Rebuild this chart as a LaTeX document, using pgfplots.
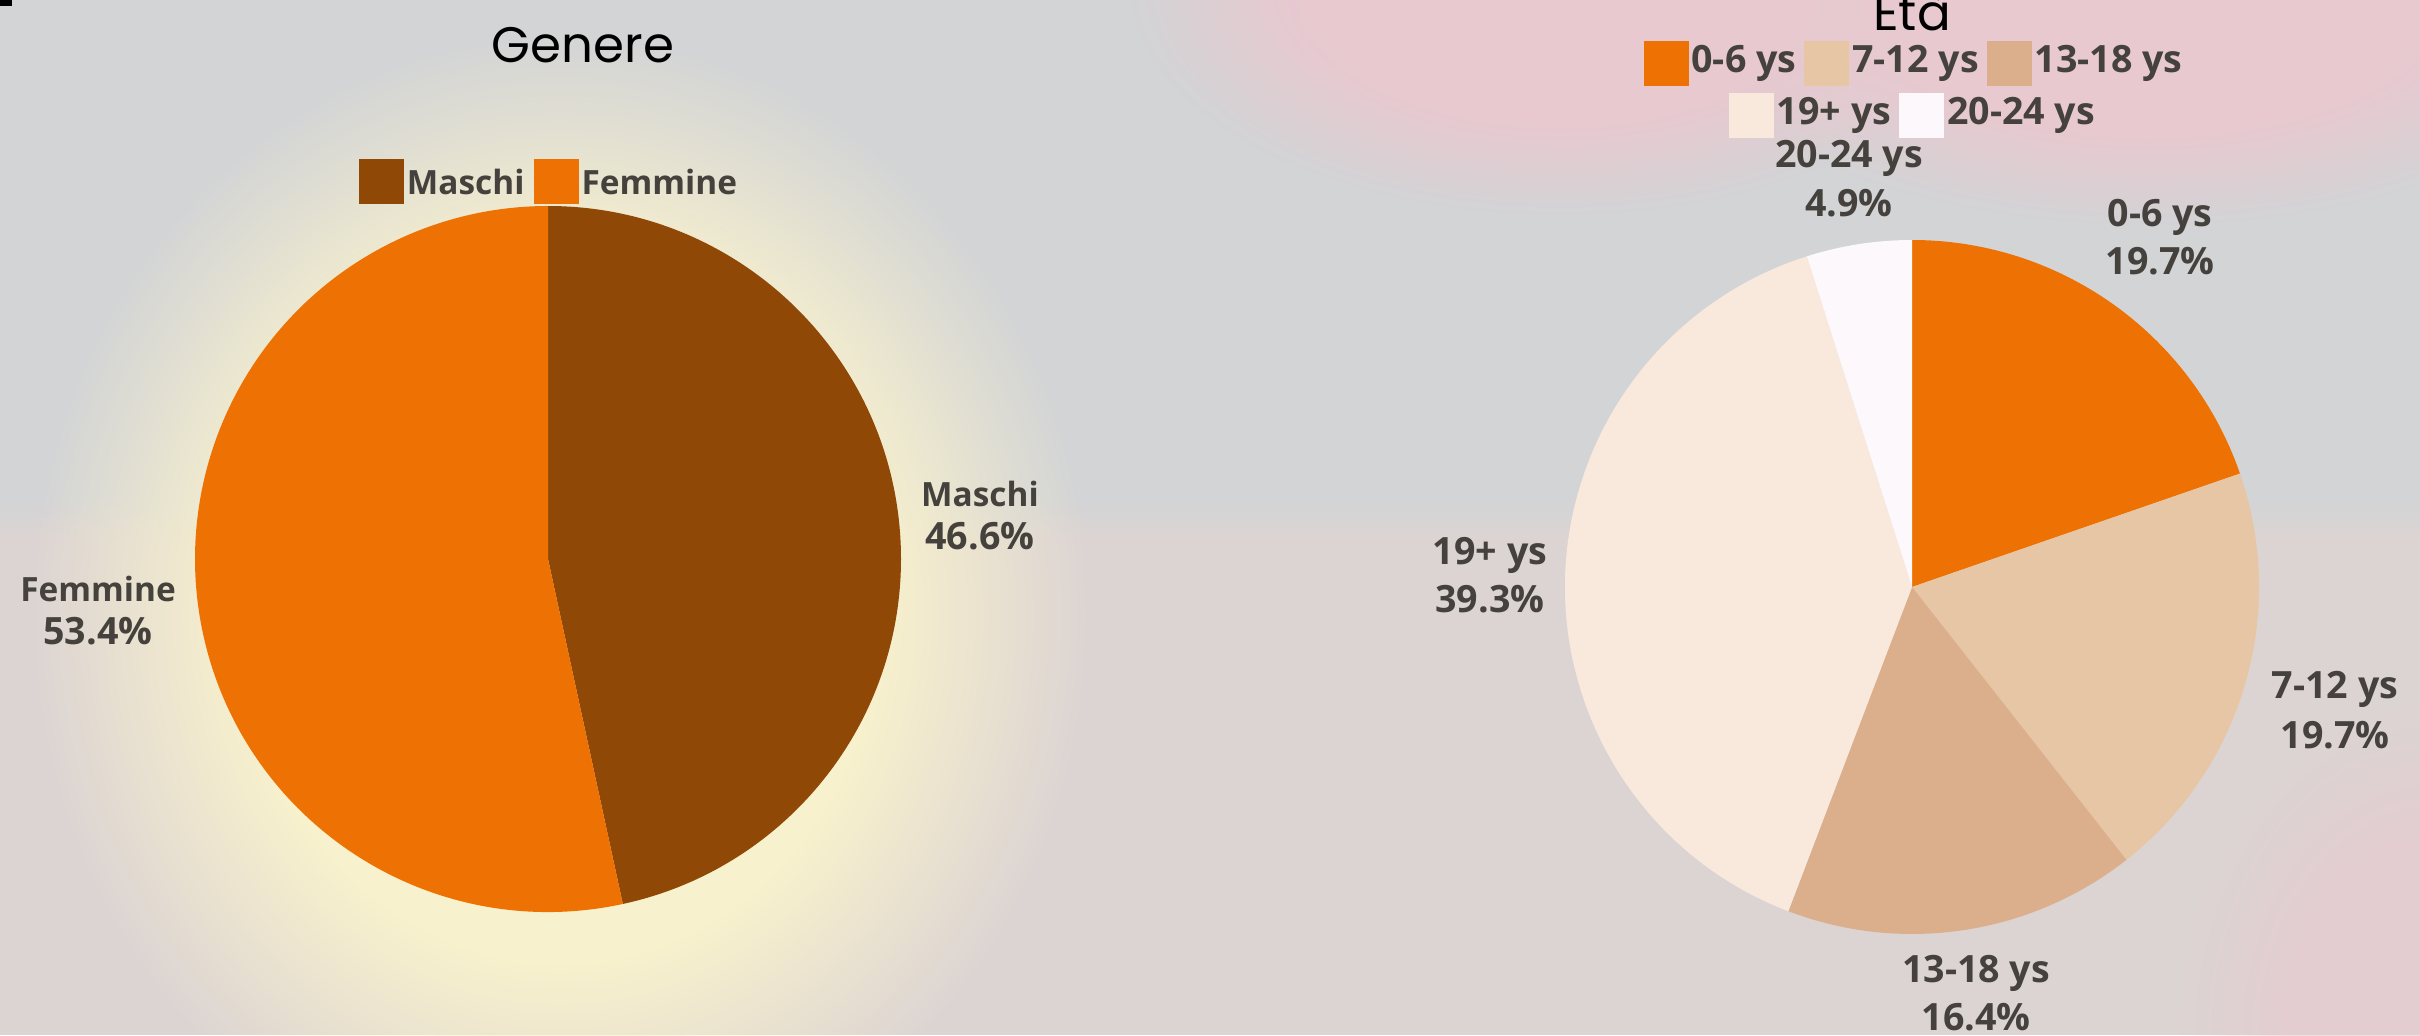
\documentclass[border=0pt]{standalone}
\usepackage{pgfplots}
\pgfplotsset{compat=1.18}
\usepackage{fontspec}
\setmainfont{Open Sans}
\newfontfamily\titlefont{Poppins}
\usetikzlibrary{fadings}

\definecolor{maschi}{HTML}{8F4806}
\definecolor{femmine}{HTML}{EE7203}
\definecolor{ageA}{HTML}{EE7203}
\definecolor{ageB}{HTML}{E7C6A6}
\definecolor{ageC}{HTML}{DBAF8B}
\definecolor{ageD}{HTML}{F9E9DC}
\definecolor{ageE}{HTML}{FDF8FC}
\definecolor{txt}{HTML}{45413D}
\definecolor{bgtop}{HTML}{D3D4D6}
\definecolor{bgbot}{HTML}{DCD4D3}
\definecolor{pinkc}{HTML}{E8C9D0}
\definecolor{glowc}{HTML}{F8F1CD}

\pgfdeclareradialshading{softshade}{\pgfpointorigin}{%
  color(0bp)=(pgftransparent!0); color(15bp)=(pgftransparent!0);
  color(25bp)=(pgftransparent!100); color(50bp)=(pgftransparent!100)}
\pgfdeclarefading{softfade}{\pgfuseshading{softshade}}

% one pie slice: start (percent), size (percent), colour, radius
\newcommand\slice[4]{%
  \fill[#3] (axis cs:0,0) -- ++({90-3.6*(#1)}:#4)
    arc[start angle={90-3.6*(#1)}, delta angle={-3.6*(#2)}, radius=#4] -- cycle;}
\newcommand\sw[2]{\raisebox{#2}{\textcolor{#1}{\rule{4.5mm}{4.5mm}}}}

\begin{document}
\begin{tikzpicture}[x=0.1mm,y=0.1mm,
  lab/.style={font=\fontsize{9.5pt}{11pt}\selectfont\bfseries, text=txt, inner sep=0pt, anchor=base},
  num/.style={font=\fontsize{10.7pt}{12pt}\selectfont\bfseries, text=txt, inner sep=0pt, anchor=base},
  ttl/.style={font=\fontsize{14.2pt}{16pt}\selectfont\titlefont, text=black, inner sep=0pt, anchor=base, text depth=0pt}]
\begin{scope}
\clip (0,0) rectangle (2420,1035);
% background
\fill[bgbot] (0,0) rectangle (2420,1035);
\fill[bgtop] (0,535) rectangle (2420,1035);
\shade[top color=bgtop, bottom color=bgbot] (0,495) rectangle (2420,535);
\fill[pinkc, path fading=softfade, fit fading=true] (1560,1050) ellipse [x radius=430, y radius=230];
\fill[pinkc, path fading=softfade, fit fading=true] (2150,1040) ellipse [x radius=480, y radius=230];
\fill[pinkc, opacity=0.6, path fading=softfade, fit fading=true] (2440,0) ellipse [x radius=260, y radius=330];
\fill[glowc, path fading=softfade, fit fading=true] (560,420) ellipse [x radius=530, y radius=580];
\fill[black] (0,1029) rectangle (12,1035);
\end{scope}

\coordinate (P1) at (548,476);
\coordinate (P2) at (1912,448);

% Genere
\begin{axis}[at={(P1)}, anchor=origin, hide axis, scale only axis,
  width=70.6mm, height=70.6mm, xmin=-1, xmax=1, ymin=-1, ymax=1]
\slice{0}{46.6}{maschi}{35.3mm}
\slice{46.6}{53.4}{femmine}{35.3mm}
\end{axis}

% Eta
\begin{axis}[at={(P2)}, anchor=origin, hide axis, scale only axis,
  width=69.4mm, height=69.4mm, xmin=-1, xmax=1, ymin=-1, ymax=1]
\slice{0}{19.7}{ageA}{34.7mm}
\slice{19.7}{19.7}{ageB}{34.7mm}
\slice{39.4}{16.4}{ageC}{34.7mm}
\slice{55.8}{39.3}{ageD}{34.7mm}
\slice{95.1}{4.9}{ageE}{34.7mm}
\end{axis}

% titles
\node[ttl] at (583,972) {Genere};
\node[ttl] at (1912,1004) {Età};

% legends
\node[lab] at (548,840) {\sw{maschi}{-0.9mm}\hspace{0.3mm}Maschi\hspace{0.9mm}\sw{femmine}{-0.9mm}\hspace{0.3mm}Femmine};
\node[num] at (1913,962) {\sw{ageA}{-1.3mm}\hspace{0.3mm}0-6 ys\hspace{0.8mm}\sw{ageB}{-1.3mm}\hspace{0.3mm}7-12 ys\hspace{0.8mm}\sw{ageC}{-1.3mm}\hspace{0.3mm}13-18 ys};
\node[num] at (1912,910) {\sw{ageD}{-1.3mm}\hspace{0.3mm}19+ ys\hspace{0.8mm}\sw{ageE}{-1.3mm}\hspace{0.3mm}20-24 ys};

% data labels
\node[lab] at (980,528) {Maschi};
\node[num] at (980,485) {46.6\%};
\node[lab] at (98,433) {Femmine};
\node[num] at (98,390) {53.4\%};
\node[num] at (2160,808) {0-6 ys};
\node[num] at (2160,760) {19.7\%};
\node[num] at (2335,337) {7-12 ys};
\node[num] at (2335,287) {19.7\%};
\node[num] at (1976,53) {13-18 ys};
\node[num] at (1976,5) {16.4\%};
\node[num] at (1490,470) {19+ ys};
\node[num] at (1490,422) {39.3\%};
\node[num] at (1849,867) {20-24 ys};
\node[num] at (1849,818) {4.9\%};

\pgfresetboundingbox
\useasboundingbox (0,0) rectangle (2420,1035);
\end{tikzpicture}
\end{document}
